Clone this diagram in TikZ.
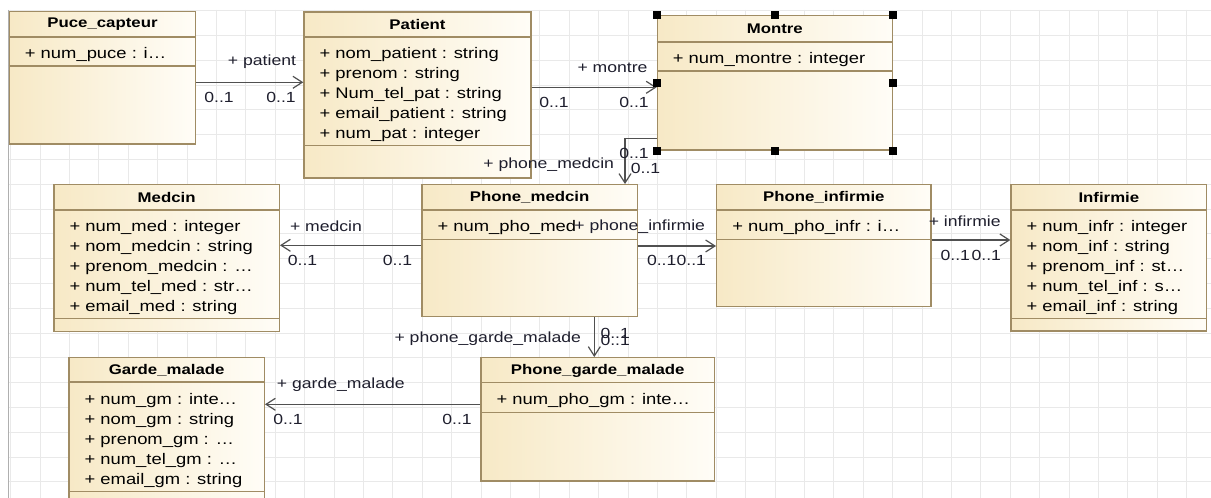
\documentclass[tikz,border=0pt]{standalone}
\usepackage{fontspec}
\setmainfont[FakeStretch=1.2]{Liberation Sans}
\usepackage{tikz}
\usetikzlibrary{arrows.meta}
\usetikzlibrary{calc}
\usetikzlibrary{fit}
\definecolor{boxline}{RGB}{160,140,100}
\definecolor{beigeL}{RGB}{247,233,198}
\definecolor{beigeR}{RGB}{255,253,247}
\definecolor{gridgray}{RGB}{233,233,233}
\definecolor{linkgray}{RGB}{80,80,80}
\definecolor{labelink}{RGB}{30,30,45}
\tikzset{
  classbox/.style = {draw=boxline, line width=1pt, left color=beigeL,
    right color=beigeR, inner sep=0pt},% boite de classe
  ctitle/.style = {font=\fontsize{10.5}{13}\selectfont\bfseries, inner sep=0pt},
  cattr/.style = {font=\fontsize{11.5}{15}\selectfont, align=left,
    inner sep=0pt, anchor=north west},
  divider/.style = {draw=boxline, line width=1pt},
  assoc/.style = {draw=linkgray, line width=0.9pt,
    -{Straight Barb[length=7pt,width=9pt]}},% association navigable
  role/.style = {font=\fontsize{11}{13}\selectfont, text=labelink, inner sep=0pt},
  handle/.style = {fill=black, minimum size=6pt, inner sep=0pt},
  gridline/.style = {draw=gridgray, line width=0.6pt}
}

\begin{document}
\begin{tikzpicture}[x=0.75pt,y=-0.75pt]
\useasboundingbox (0,0) rectangle (1211,498);
\fill[white] (0,0) rectangle (1211,498);

% grille du fond
\foreach \gx in {0,...,40}
  \draw[gridline] (10.6+29.4*\gx,10) -- (10.6+29.4*\gx,498);
\foreach \gy in {0,...,19}
  \draw[gridline] (8,10.7+24.8*\gy) -- (1211,10.7+24.8*\gy);
\draw[draw={rgb,255:red,175;green,175;blue,175}] (8,10) -- (8,498);

% classes
\node[classbox, fit={(9.3,11.7) (195.7,144)}] (puce) {};
\node[classbox, fit={(304,12) (531,178)}] (patient) {};
\node[classbox, fit={(657.3,15.7) (892.3,150)}] (montre) {};
\node[classbox, fit={(54,184.7) (279.3,331.7)}] (medcin) {};
\node[classbox, fit={(422,184.7) (637.3,316.7)}] (phmed) {};
\node[classbox, fit={(716.7,184.7) (931,306.7)}] (phinf) {};
\node[classbox, fit={(1011,184.7) (1206.7,331)}] (infirmie) {};
\node[classbox, fit={(69,357.7) (264.3,508)}] (garde) {};
\node[classbox, fit={(481,357.7) (714.3,481)}] (phgm) {};

\draw[divider] ($(puce.north west)+(0,26)$) -- ($(puce.north east)+(0,26)$);
\draw[divider] ($(puce.north west)+(0,55)$) -- ($(puce.north east)+(0,55)$);
\draw[divider] ($(patient.north west)+(0,25.7)$) -- ($(patient.north east)+(0,25.7)$);
\draw[divider] ($(patient.north west)+(0,134)$) -- ($(patient.north east)+(0,134)$);
\draw[divider] ($(montre.north west)+(0,27)$) -- ($(montre.north east)+(0,27)$);
\draw[divider] ($(montre.north west)+(0,56)$) -- ($(montre.north east)+(0,56)$);
\draw[divider] ($(medcin.north west)+(0,26)$) -- ($(medcin.north east)+(0,26)$);
\draw[divider] ($(medcin.north west)+(0,134.6)$) -- ($(medcin.north east)+(0,134.6)$);
\draw[divider] ($(phmed.north west)+(0,26)$) -- ($(phmed.north east)+(0,26)$);
\draw[divider] ($(phmed.north west)+(0,55.3)$) -- ($(phmed.north east)+(0,55.3)$);
\draw[divider] ($(phinf.north west)+(0,26)$) -- ($(phinf.north east)+(0,26)$);
\draw[divider] ($(phinf.north west)+(0,55.3)$) -- ($(phinf.north east)+(0,55.3)$);
\draw[divider] ($(infirmie.north west)+(0,26)$) -- ($(infirmie.north east)+(0,26)$);
\draw[divider] ($(infirmie.north west)+(0,134.6)$) -- ($(infirmie.north east)+(0,134.6)$);
\draw[divider] ($(garde.north west)+(0,25)$) -- ($(garde.north east)+(0,25)$);
\draw[divider] ($(garde.north west)+(0,134.6)$) -- ($(garde.north east)+(0,134.6)$);
\draw[divider] ($(phgm.north west)+(0,25.6)$) -- ($(phgm.north east)+(0,25.6)$);
\draw[divider] ($(phgm.north west)+(0,55.6)$) -- ($(phgm.north east)+(0,55.6)$);

% titres
\node[ctitle] (puce-t) at ($(puce.north)+(0,13.5)$) {Puce\_capteur};
\node[ctitle] (patient-t) at ($(patient.north)+(0,13.5)$) {Patient};
\node[ctitle] (montre-t) at ($(montre.north)+(0,14)$) {Montre};
\node[ctitle] (medcin-t) at ($(medcin.north)+(0,13.5)$) {Medcin};
\node[ctitle] (phmed-t) at ($(phmed.north)+(0,13.5)$) {Phone\_medcin};
\node[ctitle] (phinf-t) at ($(phinf.north)+(0,13.5)$) {Phone\_infirmie};
\node[ctitle] (infirmie-t) at ($(infirmie.north)+(0,13.5)$) {Infirmie};
\node[ctitle] (garde-t) at ($(garde.north)+(0,13)$) {Garde\_malade};
\node[ctitle] (phgm-t) at ($(phgm.north)+(0,13.5)$) {Phone\_garde\_malade};

% attributs
\node[cattr] (puce-a) at ($(puce.north west)+(16,33)$) {\strut+ num\_puce : i\ldots};
\node[cattr] (patient-a) at ($(patient.north west)+(16,33)$) {\strut+ nom\_patient : string\\
  + prenom : string\\+ Num\_tel\_pat : string\\+ email\_patient : string\\+ num\_pat : integer};
\node[cattr] (montre-a) at ($(montre.north west)+(16,34)$) {\strut+ num\_montre : integer};
\node[cattr] (medcin-a) at ($(medcin.north west)+(16,33)$) {\strut+ num\_med : integer\\
  + nom\_medcin : string\\+ prenom\_medcin : \ldots\\+ num\_tel\_med : str\ldots\\+ email\_med : string};
\node[cattr] (phmed-a) at ($(phmed.north west)+(16,33)$) {\strut+ num\_pho\_med};
\node[cattr] (phinf-a) at ($(phinf.north west)+(16,33)$) {\strut+ num\_pho\_infr : i\ldots};
\node[cattr] (infirmie-a) at ($(infirmie.north west)+(16,33)$) {\strut+ num\_infr : integer\\
  + nom\_inf : string\\+ prenom\_inf : st\ldots\\+ num\_tel\_inf : s\ldots\\+ email\_inf : string};
\node[cattr] (garde-a) at ($(garde.north west)+(16,33.5)$) {\strut+ num\_gm : inte\ldots\\
  + nom\_gm : string\\+ prenom\_gm : \ldots\\+ num\_tel\_gm : \ldots\\+ email\_gm : string};
\node[cattr] (phgm-a) at ($(phgm.north west)+(16,33)$) {\strut+ num\_pho\_gm : inte\ldots};

% associations
\coordinate (y1) at (0,82.3);
\coordinate (y2) at (0,87.3);
\coordinate (y3) at (0,138.3);
\coordinate (x3) at (625,0);
\coordinate (y4) at (0,245.3);
\coordinate (y5) at (0,246);
\coordinate (y6) at (0,240);
\coordinate (x7) at (594.3,0);
\coordinate (y8) at (0,404.3);

\draw[assoc] (puce.east |- y1) -- (patient.west |- y1);
\draw[assoc] (patient.east |- y2) -- (montre.west |- y2);
\draw[assoc] (montre.west |- y3) -| (phmed.north -| x3);
\draw[assoc] (phmed.west |- y4) -- (medcin.east |- y4);
\draw[assoc] (phmed.east |- y5) -- (phinf.west |- y5);
\draw[assoc] (phinf.east |- y6) -- (infirmie.west |- y6);
\draw[assoc] (phmed.south -| x7) -- (phgm.north -| x7);
\draw[assoc] (phgm.west |- y8) -- (garde.east |- y8);

% roles et multiplicites
\node[role] (r1) at (262,62) {+ patient};
\node[role] (m1a) at (219,97) {0..1};
\node[role] (m1b) at (281,97) {0..1};
\node[role] (r2) at (612.5,68) {+ montre};
\node[role] (m2a) at (554,102) {0..1};
\node[role] (m2b) at (634,102) {0..1};
\node[role] (r3) at (548.7,165) {+ phone\_medcin};
\node[role] (m3a) at (634,153.7) {0..1};
\node[role] (m3b) at (645.5,168.3) {0..1};
\node[role] (r4) at (326,226) {+ medcin};
\node[role] (m4a) at (302.5,260.8) {0..1};
\node[role] (m4b) at (397.5,260.8) {0..1};
\node[role] (r5) at (639.7,226.7) {+ phone\_infirmie};
\node[role] (m5a) at (661.7,260.8) {0..1};
\node[role] (m5b) at (691.3,260.8) {0..1};
\node[role] (r6) at (964.7,221) {+ infirmie};
\node[role] (m6a) at (955.3,255.8) {0..1};
\node[role] (m6b) at (986.3,255.8) {0..1};
\node[role] (r7) at (487.8,338.3) {+ phone\_garde\_malade};
\node[role] (m7a) at (615.2,333.3) {0..1};
\node[role] (m7b) at (615.2,340.8) {0..1};
\node[role] (r8) at (340.8,385) {+ garde\_malade};
\node[role] (m8a) at (288,419.7) {0..1};
\node[role] (m8b) at (457,419) {0..1};

% poignees de selection
\foreach \a in {north west,north,north east,west,east,south west,south,south east}
  \node[handle] (h-\a) at (montre.\a) {};
\end{tikzpicture}
\end{document}
